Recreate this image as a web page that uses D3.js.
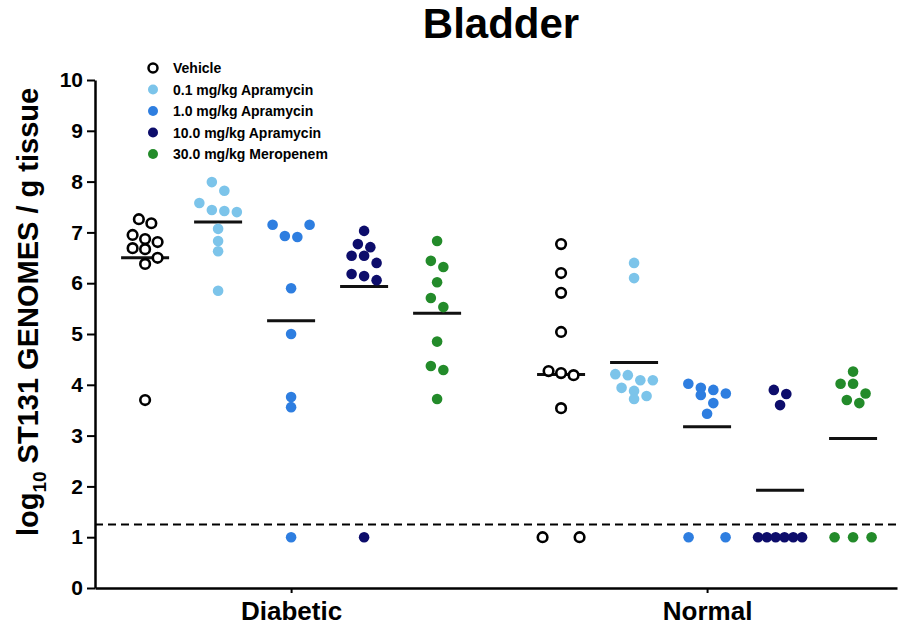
<!DOCTYPE html>
<html>
<head>
<meta charset="utf-8">
<title>Bladder</title>
<script src="https://d3js.org/d3.v7.min.js"></script>
<style>
body { margin: 0; background: #fff; }
text { font-family: Arial, "Liberation Sans", Helvetica, sans-serif; font-weight: bold; fill: #000; }
</style>
</head>
<body>
<script>
// data (log10 genomes / g tissue)
var conditions = ["Diabetic", "Normal"];
var treatments = ["Vehicle", "0.1 mg/kg Apramycin", "1.0 mg/kg Apramycin", "10.0 mg/kg Apramycin", "30.0 mg/kg Meropenem"];
var colors = ["#000000", "#7cc4ea", "#2e7ee0", "#0d0d6b", "#238b2a"];

var diabeticVehicle = [7.26, 7.18, 6.95, 6.87, 6.81, 6.69, 6.67, 6.5, 6.38, 3.7];
var diabeticApra01 = [7.99, 7.82, 7.58, 7.44, 7.42, 7.40, 7.07, 6.83, 6.63, 5.85];
var diabeticApra1 = [7.15, 7.15, 6.93, 6.91, 5.9, 5.0, 3.76, 3.56, 1.0];
var diabeticApra10 = [7.03, 6.77, 6.71, 6.54, 6.54, 6.4, 6.18, 6.14, 6.06, 1.0];
var diabeticMero30 = [6.83, 6.44, 6.32, 6.02, 5.71, 5.53, 4.85, 4.37, 4.29, 3.72];

var normalVehicle = [6.77, 6.2, 5.81, 5.04, 4.27, 4.23, 4.19, 3.54, 1.0, 1.0];
var normalApra01 = [6.4, 6.1, 4.21, 4.19, 4.09, 4.09, 3.94, 3.88, 3.78, 3.72];
var normalApra1 = [4.02, 3.94, 3.9, 3.83, 3.8, 3.64, 3.43, 1.0, 1.0];
var normalApra10 = [3.9, 3.82, 3.6, 1.0, 1.0, 1.0, 1.0, 1.0, 1.0];
var normalMero30 = [4.26, 4.02, 4.02, 3.83, 3.7, 3.64, 1.0, 1.0, 1.0];

var yTicks = [0, 1, 2, 3, 4, 5, 6, 7, 8, 9, 10];
var detectionLimit = 1.25;

var groups = [
  { cond: "Diabetic", values: [diabeticVehicle, diabeticApra01, diabeticApra1, diabeticApra10, diabeticMero30] },
  { cond: "Normal", values: [normalVehicle, normalApra01, normalApra1, normalApra10, normalMero30] }
];

var W = 899, H = 625;
var plotL = 95, plotR = 897, plotT = 80, plotB = 588;

var svg = d3.select("body").append("svg")
    .attr("width", W)
    .attr("height", H);

var y = d3.scaleLinear().domain([0, 10]).range([plotB, plotT]);
var x = d3.scalePoint().domain(conditions).range([plotL, plotR]).padding(0.464).align(0.508);
var xInner = d3.scalePoint().domain(treatments).range([-146, 146]);

// title
svg.append("text")
    .attr("x", 501).attr("y", 38)
    .attr("text-anchor", "middle")
    .style("font-size", "42px")
    .text("Bladder");

// y label
var ylab = svg.append("text")
    .attr("transform", "translate(38,312) rotate(-90)")
    .attr("text-anchor", "middle")
    .style("font-size", "29px");
ylab.append("tspan").text("log");
ylab.append("tspan").attr("dy", 8).style("font-size", "19px").text("10");
ylab.append("tspan").attr("dy", -8).text(" ST131 GENOMES / g tissue");

// y axis
var yAxis = svg.append("g")
    .attr("transform", "translate(" + plotL + ",0)")
    .call(d3.axisLeft(y).tickValues(yTicks).tickSize(8).tickSizeOuter(0).tickPadding(4));
yAxis.select(".domain").attr("stroke-width", 2.5);
yAxis.selectAll(".tick line").attr("stroke-width", 2);
yAxis.selectAll(".tick text").style("font-size", "21px").style("font-family", "Arial, 'Liberation Sans', sans-serif").style("font-weight", "bold");

// x axis
var xAxis = svg.append("g")
    .attr("transform", "translate(0," + plotB + ")")
    .call(d3.axisBottom(x).tickSize(5).tickSizeOuter(0).tickPadding(9));
xAxis.select(".domain").attr("stroke-width", 2.5);
xAxis.selectAll(".tick line").attr("stroke-width", 2);
xAxis.selectAll(".tick text").style("font-size", "26px").style("font-family", "Arial, 'Liberation Sans', sans-serif").style("font-weight", "bold");

// detection limit
svg.append("line")
    .attr("x1", plotL).attr("x2", plotR)
    .attr("y1", y(detectionLimit)).attr("y2", y(detectionLimit))
    .attr("stroke", "#000")
    .attr("stroke-width", 2)
    .attr("stroke-dasharray", "8,5");

// spread points that sit close together into centred rows
function layout(vals) {
  var sorted = vals.slice().sort(function(a, b) { return b - a; });
  var rows = [];
  sorted.forEach(function(v) {
    var py = y(v);
    var last = rows[rows.length - 1];
    if (last && py - last.start < 10) last.items.push(v);
    else rows.push({ start: py, items: [v] });
  });
  var pts = [];
  rows.forEach(function(r) {
    var n = r.items.length;
    var tied = d3.min(r.items) === d3.max(r.items);
    var step = 0;
    if (n > 1) {
      if (tied) step = (n <= 3 ? 37 : 44) / (n - 1);
      else step = Math.min(12.5, 44 / (n - 1));
    }
    r.items.forEach(function(v, i) {
      pts.push({ v: v, dx: (i - (n - 1) / 2) * step });
    });
  });
  return pts;
}

groups.forEach(function(g) {
  g.values.forEach(function(vals, ti) {
    var cx = x(g.cond) + xInner(treatments[ti]);
    var m = d3.mean(vals);
    var pts = layout(vals);
    svg.append("line")
        .attr("x1", cx - 24).attr("x2", cx + 24)
        .attr("y1", y(m)).attr("y2", y(m))
        .attr("stroke", "#111").attr("stroke-width", 3);
    var sel = svg.append("g").selectAll("circle").data(pts).enter().append("circle")
        .attr("cx", function(d) { return cx + d.dx; })
        .attr("cy", function(d) { return y(d.v); });
    if (ti === 0) {
      sel.attr("r", 4.8).attr("fill", "#fff").attr("stroke", "#000").attr("stroke-width", 2.6);
    } else {
      sel.attr("r", 5.3).attr("fill", colors[ti]);
    }
  });
});

// legend
var legend = svg.append("g").attr("transform", "translate(153,68)");
treatments.forEach(function(t, i) {
  var row = legend.append("g").attr("transform", "translate(0," + (i * 21.5) + ")");
  if (i === 0) {
    row.append("circle").attr("r", 4.5).attr("fill", "none").attr("stroke", "#000").attr("stroke-width", 2.5);
  } else {
    row.append("circle").attr("r", 5).attr("fill", colors[i]);
  }
  row.append("text").attr("x", 20).attr("y", 5).style("font-size", "14px").text(t);
});
</script>
</body>
</html>
